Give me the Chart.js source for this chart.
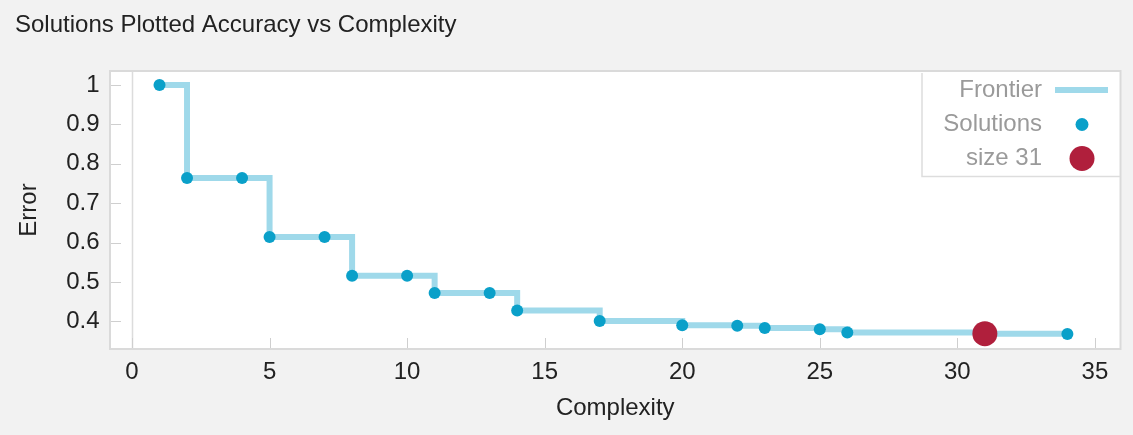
<!DOCTYPE html>
<html>
<head>
<meta charset="utf-8">
<script src="https://cdn.jsdelivr.net/npm/chart.js@4/dist/chart.umd.min.js"></script>
<style>
  html, body { margin: 0; padding: 0; background: #f2f2f2; }
  #wrap { width: 1133px; height: 435px; }
</style>
</head>
<body>
<div id="wrap"><canvas id="c" width="1133" height="435"></canvas></div>
<script>
// ---- data ----
const complexity = [1, 2, 4, 5, 7, 8, 10, 11, 13, 14, 17, 20, 22, 23, 25, 26, 31, 34];
const errorValues = [1.0, 0.764, 0.764, 0.614, 0.614, 0.516, 0.516, 0.472, 0.472, 0.428, 0.401, 0.390, 0.389, 0.383, 0.380, 0.372, 0.369, 0.368];
const selectedX = [31];
const selectedY = [0.369];
const xTicks = [0, 5, 10, 15, 20, 25, 30, 35];
const yTicks = [0.4, 0.5, 0.6, 0.7, 0.8, 0.9, 1];
const titleText = 'Solutions Plotted Accuracy vs Complexity';
const xTitle = 'Complexity';
const yTitle = 'Error';
const seriesLabels = ['Frontier', 'Solutions', 'size 31'];

const FONT = '"Liberation Sans", Arial, sans-serif';
const frontierColor = '#9fd9ea';
const dotColor = '#0aa0c9';
const redColor = '#b01f3c';

const pts = complexity.map((x, i) => ({ x: x, y: errorValues[i] }));
const selPts = selectedX.map((x, i) => ({ x: x, y: selectedY[i] }));

const frameAndTicks = {
  id: 'frameAndTicks',
  beforeDatasetsDraw(chart) {
    const { ctx, chartArea: a } = chart;
    ctx.save();
    ctx.fillStyle = '#ffffff';
    ctx.fillRect(a.left, a.top, a.right - a.left, a.bottom - a.top);
    // zero vertical line
    const xs = chart.scales.x, ys = chart.scales.y;
    ctx.strokeStyle = '#dcdcdc';
    ctx.lineWidth = 1.5;
    const x0 = Math.round(xs.getPixelForValue(0)) + 0.5;
    ctx.beginPath(); ctx.moveTo(x0, a.top); ctx.lineTo(x0, a.bottom); ctx.stroke();
    // inward tick marks
    ctx.strokeStyle = '#cfcfcf';
    ctx.lineWidth = 1;
    yTicks.forEach(v => {
      const y = Math.round(ys.getPixelForValue(v)) + 0.5;
      ctx.beginPath(); ctx.moveTo(a.left, y); ctx.lineTo(a.left + 11, y); ctx.stroke();
    });
    xTicks.forEach(v => {
      const x = Math.round(xs.getPixelForValue(v)) + 0.5;
      ctx.beginPath(); ctx.moveTo(x, a.bottom); ctx.lineTo(x, a.bottom - 11); ctx.stroke();
    });
    // frame
    ctx.strokeStyle = '#dadada';
    ctx.lineWidth = 2;
    ctx.strokeRect(a.left, a.top, a.right - a.left, a.bottom - a.top);
    ctx.restore();
  },
  afterDraw(chart) {
    const { ctx } = chart;
    const ds = chart.data.datasets;
    ctx.save();
    // legend box
    const L = 922, R = 1120, T = 73, B = 176.5;
    ctx.strokeStyle = '#dddddd';
    ctx.lineWidth = 1.5;
    ctx.beginPath(); ctx.moveTo(L, T); ctx.lineTo(L, B); ctx.lineTo(R, B); ctx.stroke();
    const rows = [90, 124.5, 158.5];
    ctx.font = '24px ' + FONT;
    ctx.fillStyle = '#9a9a9a';
    ctx.textAlign = 'right';
    ctx.textBaseline = 'middle';
    ds.forEach((d, i) => {
      ctx.fillText(d.label, 1042, rows[i]);
    });
    // markers
    ctx.strokeStyle = ds[0].borderColor;
    ctx.lineWidth = ds[0].borderWidth;
    ctx.beginPath(); ctx.moveTo(1055, rows[0]); ctx.lineTo(1108, rows[0]); ctx.stroke();
    ctx.fillStyle = ds[1].backgroundColor;
    ctx.beginPath(); ctx.arc(1082, rows[1], 6.5, 0, Math.PI * 2); ctx.fill();
    ctx.fillStyle = ds[2].backgroundColor;
    ctx.beginPath(); ctx.arc(1082, rows[2], 12.5, 0, Math.PI * 2); ctx.fill();
    ctx.restore();
  }
};

new Chart(document.getElementById('c'), {
  type: 'scatter',
  data: {
    datasets: [
      {
        label: seriesLabels[0],
        data: pts,
        type: 'line',
        showLine: true,
        stepped: 'before',
        borderColor: frontierColor,
        backgroundColor: frontierColor,
        borderWidth: 6,
        pointRadius: 0,
        fill: false,
        order: 3
      },
      {
        label: seriesLabels[1],
        data: pts,
        backgroundColor: dotColor,
        borderColor: dotColor,
        pointRadius: 6,
        borderWidth: 0,
        order: 2
      },
      {
        label: seriesLabels[2],
        data: selPts,
        backgroundColor: redColor,
        borderColor: redColor,
        pointRadius: 12.5,
        borderWidth: 0,
        order: 1
      }
    ]
  },
  options: {
    responsive: false,
    animation: false,
    devicePixelRatio: 1,
    layout: { padding: { left: 15, right: 9, top: 0, bottom: 0 } },
    plugins: {
      legend: { display: false },
      tooltip: { enabled: false },
      title: {
        display: true,
        text: titleText,
        align: 'start',
        color: '#222222',
        font: { family: FONT, size: 24, weight: 'normal' },
        padding: { top: 10.6, bottom: 31.6 }
      }
    },
    scales: {
      x: {
        type: 'linear',
        min: -0.8,
        max: 35.93,
        afterBuildTicks: (s) => { s.ticks = xTicks.map(v => ({ value: v })); },
        afterFit: (s) => { s.height = 86; },
        grid: { display: false, drawTicks: false },
        border: { display: false },
        ticks: {
          padding: 8.8,
          color: '#222222',
          font: { family: FONT, size: 24 },
          maxRotation: 0,
          callback: (v) => String(v)
        },
        title: {
          display: true,
          text: xTitle,
          color: '#222222',
          font: { family: FONT, size: 24 },
          padding: { top: 0, bottom: 11.9 }
        }
      },
      y: {
        type: 'linear',
        min: 0.33,
        max: 1.0355,
        afterBuildTicks: (s) => { s.ticks = yTicks.map(v => ({ value: v })); },
        afterFit: (s) => { s.width = 95; },
        grid: { display: false, drawTicks: false },
        border: { display: false },
        ticks: {
          padding: 10.5,
          color: '#222222',
          font: { family: FONT, size: 24 },
          callback: (v) => String(+v.toFixed(2))
        },
        title: {
          display: true,
          text: yTitle,
          color: '#222222',
          font: { family: FONT, size: 24 },
          padding: { top: 0, bottom: 0 }
        }
      }
    }
  },
  plugins: [frameAndTicks]
});
</script>
</body>
</html>
